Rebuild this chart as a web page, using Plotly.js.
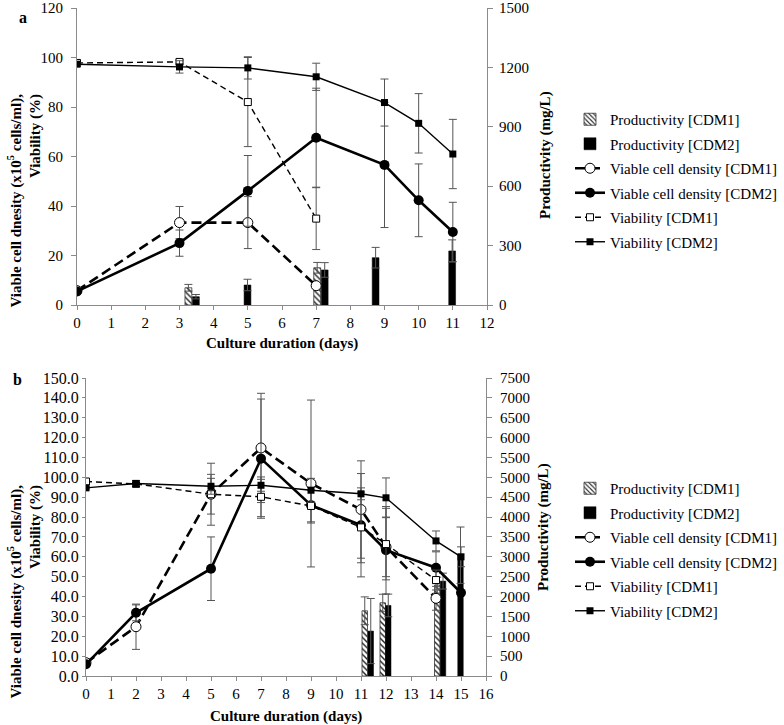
<!DOCTYPE html>
<html>
<head>
<meta charset="utf-8">
<script src="https://cdn.plot.ly/plotly-3.0.1.min.js"></script>
<style>html,body{margin:0;padding:0;background:#fff;}#chart{width:784px;height:725px;}</style>
</head>
<body>
<div id="chart"></div>
<script>
// ---------- Panel a data ----------
const daysA_CDM1 = [0, 3, 5, 7];
const daysA_CDM2 = [0, 3, 5, 7, 9, 10, 11];
const vcdA_CDM1 = [5.8, 33.3, 33.3, 7.8];
const vcdA_CDM1_err = [0, 6.5, 10.5, 1];
const vcdA_CDM2 = [5.5, 25.0, 46.1, 67.6, 56.6, 42.3, 29.5];
const vcdA_CDM2_err = [0.5, 5.3, 14.3, 20, 25.3, 14.7, 12];
const viabA_CDM1 = [97.8, 98.2, 82.0, 34.9];
const viabA_CDM1_err = [0, 0.8, 18, 12.5];
const viabA_CDM2 = [97.3, 96.2, 95.8, 92.2, 81.8, 73.4, 61.0];
const viabA_CDM2_err = [0.5, 2.5, 4.5, 5.5, 9.5, 12, 14];
const prodA_CDM1_day = [3.26, 7.03];
const prodA_CDM1 = [87, 188];
const prodA_CDM1_err = [17, 27];
const prodA_CDM2_day = [3.48, 4.99, 7.25, 8.74, 10.98];
const prodA_CDM2 = [42, 101, 177, 239, 273];
const prodA_CDM2_err = [11, 29, 37, 52, 56];

// ---------- Panel b data ----------
const daysB_CDM1 = [0, 2, 5, 7, 9, 11, 12, 14];
const daysB_CDM2 = [0, 2, 5, 7, 9, 11, 12, 14, 15];
const vcdB_CDM1 = [6.7, 24.8, 91.5, 114.8, 96.9, 83.8, 65.0, 39.1];
const vcdB_CDM1_err = [0.5, 11.4, 15.6, 27.5, 42, 24.5, 15, 6];
const vcdB_CDM2 = [5.9, 31.8, 54.0, 109.4, 86.0, 75.9, 63.3, 54.5, 41.9];
const vcdB_CDM2_err = [0.5, 4, 16, 30, 9, 26, 22, 8, 0];
const viabB_CDM1 = [97.9, 96.7, 91.5, 90.2, 85.6, 74.8, 66.4, 48.3];
const viabB_CDM1_err = [0.5, 1, 10, 10, 8, 17.8, 18, 5];
const viabB_CDM2 = [94.7, 96.9, 95.5, 96.0, 93.5, 91.7, 89.7, 68.0, 60.0];
const viabB_CDM2_err = [0.5, 1, 4, 3, 6, 3, 10, 5, 5];
const prodB_CDM1_day = [11.15, 11.87, 14.05];
const prodB_CDM1 = [1641, 1843, 2287];
const prodB_CDM1_err = [350, 215, 200];
const prodB_CDM2_day = [11.39, 12.09, 14.28, 14.98];
const prodB_CDM2 = [1131, 1776, 2388, 3040];
const prodB_CDM2_err = [820, 285, 200, 710];

// ---------- Labels ----------
const seriesNames = ['Productivity [CDM1]', 'Productivity [CDM2]',
  'Viable cell density [CDM1]', 'Viable cell density [CDM2]',
  'Viability [CDM1]', 'Viability [CDM2]'];
const xTitle = 'Culture duration (days)';
const yLeftTitle = 'Viable cell dnesity (x10<sup>5</sup> cells/ml),<br>Viability (%)';
const yRightTitle = 'Productivity (mg/L)';

const FONT = '"Liberation Serif", "Times New Roman", Times, serif';
const W = 784, H = 725;
const px = v => v / W;
const py = v => 1 - v / H;

function err(arr) {
  return {type: 'data', array: arr, visible: true, color: '#555', thickness: 1, width: 4};
}

function makeTraces(p) {
  const xa = p.xa, yb = p.yb, yl = p.yl, lg = p.legend;
  return [
    {type: 'bar', name: seriesNames[0], x: p.c1x, y: p.c1, error_y: err(p.c1e), xaxis: xa, yaxis: yb,
     width: p.bw, legend: lg, legendgroup: lg + 'g0',
     marker: {color: 'white', line: {color: '#333', width: 0.8},
              pattern: {shape: '\\', fgcolor: '#222', bgcolor: 'white', size: 4, solidity: 0.35}}},
    {type: 'bar', name: seriesNames[1], x: p.c2x, y: p.c2, error_y: err(p.c2e), xaxis: xa, yaxis: yb,
     width: p.bw, legend: lg, legendgroup: lg + 'g1',
     marker: {color: 'black', line: {color: 'black', width: 0.5}}},
    {type: 'scatter', mode: 'lines+markers', name: seriesNames[2], x: p.d1, y: p.v1, error_y: err(p.v1e),
     xaxis: xa, yaxis: yl, legend: lg, legendgroup: lg + 'g2',
     line: {color: 'black', width: 2.6, dash: '10px,5px'},
     marker: {symbol: 'circle', size: 10, color: 'white', line: {color: 'black', width: 1}}},
    {type: 'scatter', mode: 'lines+markers', name: seriesNames[3], x: p.d2, y: p.v2, error_y: err(p.v2e),
     xaxis: xa, yaxis: yl, legend: lg, legendgroup: lg + 'g3',
     line: {color: 'black', width: 2.6},
     marker: {symbol: 'circle', size: 10, color: 'black'}},
    {type: 'scatter', mode: 'lines+markers', name: seriesNames[4], x: p.d1, y: p.a1, error_y: err(p.a1e),
     xaxis: xa, yaxis: yl, legend: lg, legendgroup: lg + 'g4',
     line: {color: 'black', width: 1.4, dash: '6px,4px'},
     marker: {symbol: 'square', size: 7, color: 'white', line: {color: 'black', width: 1}}},
    {type: 'scatter', mode: 'lines+markers', name: seriesNames[5], x: p.d2, y: p.a2, error_y: err(p.a2e),
     xaxis: xa, yaxis: yl, legend: lg, legendgroup: lg + 'g5',
     line: {color: 'black', width: 1.4},
     marker: {symbol: 'square', size: 7, color: 'black'}}
  ];
}

const data = [].concat(
  makeTraces({xa: 'x', yb: 'y', yl: 'y2', legend: 'legend', bw: 0.2,
    c1x: prodA_CDM1_day, c1: prodA_CDM1, c1e: prodA_CDM1_err,
    c2x: prodA_CDM2_day, c2: prodA_CDM2, c2e: prodA_CDM2_err,
    d1: daysA_CDM1, d2: daysA_CDM2,
    v1: vcdA_CDM1, v1e: vcdA_CDM1_err, v2: vcdA_CDM2, v2e: vcdA_CDM2_err,
    a1: viabA_CDM1, a1e: viabA_CDM1_err, a2: viabA_CDM2, a2e: viabA_CDM2_err}),
  makeTraces({xa: 'x2', yb: 'y3', yl: 'y4', legend: 'legend2', bw: 0.22,
    c1x: prodB_CDM1_day, c1: prodB_CDM1, c1e: prodB_CDM1_err,
    c2x: prodB_CDM2_day, c2: prodB_CDM2, c2e: prodB_CDM2_err,
    d1: daysB_CDM1, d2: daysB_CDM2,
    v1: vcdB_CDM1, v1e: vcdB_CDM1_err, v2: vcdB_CDM2, v2e: vcdB_CDM2_err,
    a1: viabB_CDM1, a1e: viabB_CDM1_err, a2: viabB_CDM2, a2e: viabB_CDM2_err})
);

const tickFont = {family: FONT, size: 15, color: 'black'};
function axisBase(extra) {
  return Object.assign({
    showline: true, linecolor: '#8a8a8a', linewidth: 1,
    ticks: 'outside', ticklen: 5, tickcolor: '#8a8a8a', tickwidth: 1,
    tickfont: tickFont, showgrid: false, zeroline: false, automargin: false, fixedrange: true
  }, extra);
}

const legendBase = {
  font: {family: FONT, size: 15, color: 'black'},
  bgcolor: 'rgba(0,0,0,0)', borderwidth: 0,
  traceorder: 'grouped', tracegroupgap: 2,
  xanchor: 'left', yanchor: 'top'
};

const titleFont = {family: FONT, size: 15, color: 'black'};

function ann(text, x, y, extra) {
  return Object.assign({text: text, xref: 'paper', yref: 'paper', x: px(x), y: py(y),
    xanchor: 'center', yanchor: 'middle', showarrow: false, font: titleFont}, extra || {});
}

const layout = {
  width: W, height: H,
  margin: {l: 0, r: 0, t: 0, b: 0},
  paper_bgcolor: 'white', plot_bgcolor: 'rgba(0,0,0,0)',
  font: {family: FONT},
  showlegend: true,
  barmode: 'overlay',
  xaxis: axisBase({domain: [px(77), px(487)], range: [0, 12], dtick: 1, tick0: 0, anchor: 'y', ticklen: 4}),
  yaxis: axisBase({domain: [py(305), py(8)], range: [0, 1500], dtick: 300, tick0: 0, side: 'right', anchor: 'x',
    ticklabelstandoff: 3}),
  yaxis2: axisBase({domain: [py(305), py(8)], range: [0, 120], dtick: 20, tick0: 0, side: 'left', overlaying: 'y', anchor: 'x',
    ticklabelstandoff: 5}),
  xaxis2: axisBase({domain: [px(86), px(486)], range: [0, 16], dtick: 1, tick0: 0, anchor: 'y3', ticklen: 4}),
  yaxis3: axisBase({domain: [py(676), py(378)], range: [0, 7500], dtick: 500, tick0: 0, side: 'right', anchor: 'x2',
    ticklabelstandoff: 5}),
  yaxis4: axisBase({domain: [py(676), py(378)], range: [0, 150], dtick: 10, tick0: 0, tickformat: '.1f', side: 'left', overlaying: 'y3', anchor: 'x2',
    ticklen: 3, tickfont: {family: FONT, size: 16, color: 'black'}}),
  legend: Object.assign({}, legendBase, {x: px(570), y: py(103)}),
  legend2: Object.assign({}, legendBase, {x: px(570), y: py(472)}),
  annotations: [
    ann('<b>a</b>', 23, 17, {font: {family: FONT, size: 16, color: 'black'}}),
    ann('<b>b</b>', 17, 379, {font: {family: FONT, size: 16, color: 'black'}}),
    ann('<b>' + xTitle + '</b>', 282, 343),
    ann('<b>' + xTitle + '</b>', 286, 716),
    ann('<b>' + yLeftTitle + '</b>', 3, 92, {xanchor: 'left', yanchor: 'top', textangle: -90, align: 'right'}),
    ann('<b>' + yLeftTitle + '</b>', 3, 483, {xanchor: 'left', yanchor: 'top', textangle: -90, align: 'right'}),
    ann('<b>' + yRightTitle + '</b>', 545, 155, {textangle: -90}),
    ann('<b>' + yRightTitle + '</b>', 543, 527, {textangle: -90})
  ]
};

Plotly.newPlot('chart', data, layout, {staticPlot: true, displayModeBar: false});
</script>
</body>
</html>
